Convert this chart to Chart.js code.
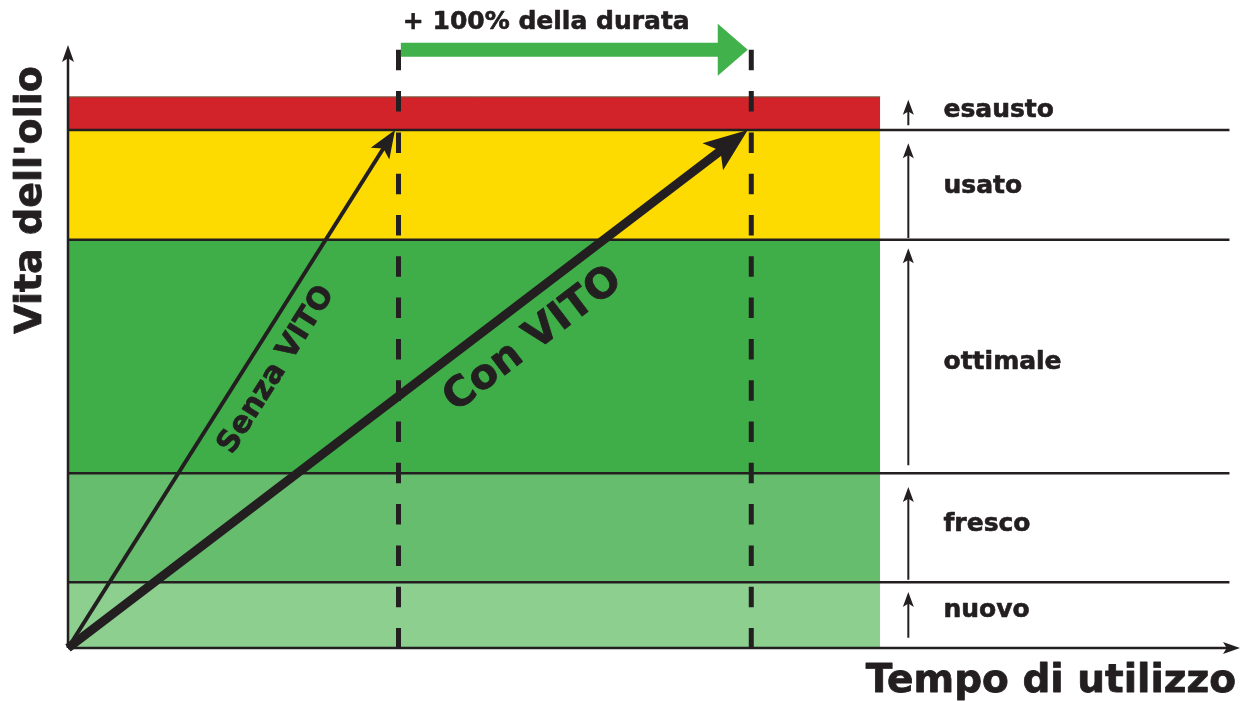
<!DOCTYPE html>
<html>
<head>
<meta charset="utf-8">
<script src="https://cdn.jsdelivr.net/npm/chart.js@4"></script>
<style>
  html, body { margin: 0; background: #fff; }
  #wrap { width: 1242px; height: 701px; }
</style>
</head>
<body>
<div id="wrap"><canvas id="oilChart"></canvas></div>
<script>
const ink = "#231f20";
const font = "'DejaVu Sans', 'Liberation Sans', sans-serif";

// oil life bands (top of each band, y scale 0..10)
const bandNames = ["nuovo", "fresco", "ottimale", "usato", "esausto"];
const bandTops = [1.09, 2.90, 6.77, 8.59, 9.14];
const bandColors = ["#8ccf8f", "#66bd6d", "#3fae49", "#fddb00", "#d2232a"];
const bandEnd = 6.93;
const dividers = [1.09, 2.90, 6.77, 8.59];
const dividerEnd = 9.91;

// right hand labels and their small arrows
const labelX = 7.47;
const labelY = [0.63, 2.04, 4.74, 7.65, 8.91];
const sideArrowX = 7.17;
const sideArrowFrom = [0.17, 1.13, 3.03, 6.80, 8.67];
const sideArrowTo = [0.93, 2.67, 6.63, 8.37, 9.09];

// the two lines: without and with VITO
const senzaEnd = [2.79, 8.59];
const conEnd = [5.80, 8.59];
const dashX = [2.82, 5.83];
const dashTop = 9.92;
const gain = { from: 2.84, to: 5.80, y: 9.92 };

const datasets = [];

// Bands (high order = drawn underneath)
bandNames.forEach((name, i) => {
  const last = i === bandNames.length - 1;
  datasets.push({
    label: name,
    data: [{ x: 0, y: bandTops[i] }, { x: bandEnd, y: bandTops[i] }],
    backgroundColor: bandColors[i],
    borderColor: "#6b6547",
    borderWidth: last ? 1 : 0,
    fill: i === 0 ? "origin" : "-1",
    order: 10
  });
});

// Band dividers
dividers.forEach(v => {
  datasets.push({
    data: [{ x: 0, y: v }, { x: dividerEnd, y: v }],
    borderColor: ink,
    borderWidth: 2.5,
    order: 5
  });
});

// Dashed verticals
dashX.forEach(x => {
  datasets.push({
    data: [{ x: x, y: dashTop }, { x: x, y: 0 }],
    borderColor: ink,
    borderWidth: 5,
    borderDash: [20.5, 20.8],
    order: 4
  });
});

// Side arrows
sideArrowFrom.forEach((from, i) => {
  datasets.push({
    data: [{ x: sideArrowX, y: from }, { x: sideArrowX, y: sideArrowTo[i] }],
    borderColor: ink,
    borderWidth: 2,
    head: { len: 15, hw: 5.5, color: ink },
    order: 3
  });
});

// Axes
datasets.push({
  data: [{ x: 0, y: 0 }, { x: 0, y: 10 }],
  borderColor: ink, borderWidth: 2.5,
  head: { len: 17, hw: 6, color: ink },
  order: 3
});
datasets.push({
  data: [{ x: 0, y: 0 }, { x: 10, y: 0 }],
  borderColor: ink, borderWidth: 2.5,
  head: { len: 17, hw: 6, color: ink },
  order: 3
});

// Senza VITO / Con VITO
datasets.push({
  data: [{ x: 0, y: 0 }, { x: senzaEnd[0], y: senzaEnd[1] }],
  borderColor: ink, borderWidth: 4,
  head: { len: 28, hw: 11, color: ink },
  order: 1
});
datasets.push({
  data: [{ x: 0, y: 0 }, { x: conEnd[0], y: conEnd[1] }],
  borderColor: ink, borderWidth: 9,
  head: { len: 44, hw: 17, color: ink },
  order: 1
});

// + 100% arrow
datasets.push({
  data: [{ x: gain.from, y: gain.y }, { x: gain.to, y: gain.y }],
  borderColor: "#41b14c", borderWidth: 14,
  head: { len: 30, hw: 26, color: "#41b14c", notch: 0 },
  order: 1
});

function headGeom(chart, index) {
  const pts = chart.getDatasetMeta(index).data;
  const a = pts[pts.length - 2], b = pts[pts.length - 1];
  const dx = b.x - a.x, dy = b.y - a.y;
  const d = Math.hypot(dx, dy);
  return { tx: b.x, ty: b.y, ux: dx / d, uy: dy / d };
}

// Stop shafts at the head base, then draw the head
const arrowHeads = {
  id: "arrowHeads",
  beforeDatasetDraw(chart, args) {
    const ds = chart.data.datasets[args.index];
    if (!ds.head) return;
    const g = headGeom(chart, args.index);
    const ctx = chart.ctx;
    const bx = g.tx - g.ux * ds.head.len * 0.7;
    const by = g.ty - g.uy * ds.head.len * 0.7;
    const px = -g.uy, py = g.ux, R = 4000;
    ctx.save();
    ctx.beginPath();
    ctx.moveTo(bx + px * R, by + py * R);
    ctx.lineTo(bx - px * R, by - py * R);
    ctx.lineTo(bx - px * R - g.ux * R, by - py * R - g.uy * R);
    ctx.lineTo(bx + px * R - g.ux * R, by + py * R - g.uy * R);
    ctx.closePath();
    ctx.clip();
  },
  afterDatasetDraw(chart, args) {
    const ds = chart.data.datasets[args.index];
    if (!ds.head) return;
    const ctx = chart.ctx;
    ctx.restore();
    const g = headGeom(chart, args.index);
    const h = ds.head;
    const notch = h.notch === undefined ? 0.22 : h.notch;
    const px = -g.uy, py = g.ux;
    const bx = g.tx - g.ux * h.len, by = g.ty - g.uy * h.len;
    ctx.save();
    ctx.fillStyle = h.color;
    ctx.beginPath();
    ctx.moveTo(g.tx, g.ty);
    ctx.lineTo(bx + px * h.hw, by + py * h.hw);
    ctx.lineTo(g.tx - g.ux * h.len * (1 - notch), g.ty - g.uy * h.len * (1 - notch));
    ctx.lineTo(bx - px * h.hw, by - py * h.hw);
    ctx.closePath();
    ctx.fill();
    ctx.restore();
  }
};

function boldText(ctx, text, x, y, size, angle, align) {
  ctx.save();
  ctx.translate(x, y);
  ctx.rotate(angle || 0);
  ctx.font = "bold " + size + "px " + font;
  ctx.fillStyle = ink;
  ctx.strokeStyle = ink;
  ctx.lineWidth = Math.min(size / 40, 0.8);
  ctx.lineJoin = "round";
  ctx.textAlign = align || "center";
  ctx.textBaseline = "middle";
  ctx.fillText(text, 0, 0);
  ctx.strokeText(text, 0, 0);
  ctx.restore();
}

// All the words
const labelsPlugin = {
  id: "labelsPlugin",
  afterDraw(chart) {
    const ctx = chart.ctx;
    const xs = chart.scales.x, ys = chart.scales.y;
    const X = v => xs.getPixelForValue(v), Y = v => ys.getPixelForValue(v);

    bandNames.forEach((name, i) => boldText(ctx, name, X(labelX), Y(labelY[i]), 25, 0, "left"));

    boldText(ctx, "+ 100% della durata", X(gain.from) + 2, Y(10.38), 25, 0, "left");

    const sAng = Math.atan2(Y(senzaEnd[1]) - Y(0), X(senzaEnd[0]) - X(0));
    boldText(ctx, "Senza VITO", X(1.78), Y(4.61), 30, sAng);
    const cAng = Math.atan2(Y(conEnd[1]) - Y(0), X(conEnd[0]) - X(0));
    boldText(ctx, "Con VITO", X(3.97), Y(5.11), 41, cAng);

    boldText(ctx, "Vita dell'olio", 31, 200, 38, -Math.PI / 2);
    boldText(ctx, "Tempo di utilizzo", 1236, 682, 39, 0, "right");
  }
};

new Chart(document.getElementById("oilChart"), {
  type: "scatter",
  data: { datasets: datasets },
  options: {
    responsive: true,
    maintainAspectRatio: false,
    animation: false,
    events: [],
    showLine: true,
    clip: false,
    layout: { padding: { left: 68, top: 45, right: 2, bottom: 53 } },
    elements: { point: { radius: 0 }, line: { tension: 0, borderCapStyle: "butt" } },
    scales: {
      x: { type: "linear", min: 0, max: 10, display: false },
      y: { type: "linear", min: 0, max: 10, display: false }
    },
    plugins: { legend: { display: false }, tooltip: { enabled: false } }
  },
  plugins: [arrowHeads, labelsPlugin]
});
</script>
</body>
</html>
